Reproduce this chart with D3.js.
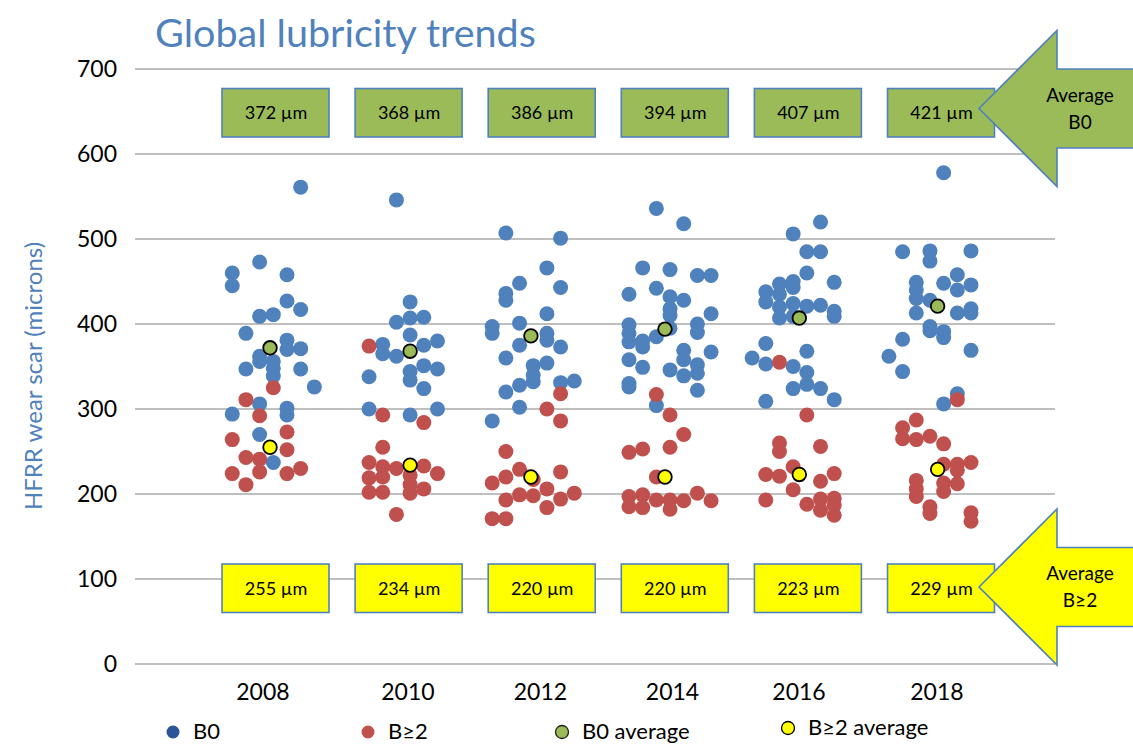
<!DOCTYPE html>
<html><head><meta charset="utf-8">
<script src="https://cdn.jsdelivr.net/npm/d3@7"></script>
<style>body{margin:0;background:#fff;} svg{display:block;font-family:Lato,"Open Sans",sans-serif;}</style>
</head><body>
<svg id="chart" width="1133" height="744"></svg>
<script>
// ---- data ----
const years = ["2008","2010","2012","2014","2016","2018"];
const b0Avg = [372, 368, 386, 394, 407, 421];
const b2Avg = [255, 234, 220, 220, 223, 229];
// x slot (jitter column) of each average marker and each year label
const avgSlot = [2.76, 13, 21.83, 31.63, 41.45, 51.56];
const labelSlot = [2.24, 12.84, 22.53, 32.18, 41.43, 51.51];
const yTicks = [0, 100, 200, 300, 400, 500, 600, 700];

// B0 points: [slot, wear scar]
const b0_2008 = [[5,561],[2,473],[0,460],[0,445],[4,458],[4,427],[5,417],[2,409],[3,411],[1,389],[4,381],[4,370],[5,371],[2,362],[2,356],[3,356],[3,348],[3,339],[1,347],[5,347],[6,326],[2,306],[4,301],[4,293],[0,294],[2,270],[3,237]];
const b0_2010 = [[12,546],[13,426],[12,402],[13,407],[14,408],[13,387],[11,376],[11,365],[12,362],[14,375],[15,380],[14,351],[15,347],[13,344],[13,334],[10,338],[14,324],[10,300],[13,293],[15,300]];
const b0_2012 = [[20,507],[24,501],[23,466],[21,448],[24,443],[20,436],[20,428],[23,412],[21,401],[19,397],[19,389],[23,389],[23,381],[21,375],[24,373],[20,360],[22,351],[23,354],[22,340],[22,332],[21,328],[24,331],[25,333],[20,320],[21,302],[19,286]];
const b0_2014 = [[31,536],[33,518],[30,466],[32,464],[34,457],[35,457],[31,442],[29,435],[32,432],[33,428],[32,418],[32,410],[35,412],[29,399],[34,400],[34,390],[29,389],[32,395],[31,385],[30,380],[29,379],[30,373],[33,369],[35,367],[33,358],[29,358],[34,352],[30,349],[32,346],[33,339],[34,342],[29,330],[29,326],[34,322],[31,304]];
const b0_2016 = [[43,520],[41,506],[42,485],[43,485],[42,460],[40,447],[41,450],[44,449],[39,438],[39,426],[40,435],[41,443],[40,420],[41,424],[42,421],[43,422],[44,415],[44,409],[40,407],[41,409],[39,377],[38,360],[39,353],[42,368],[41,350],[42,343],[42,329],[41,324],[43,324],[39,309],[44,311]];
const b0_2018 = [[52,578],[49,485],[51,486],[54,486],[51,474],[53,458],[50,449],[52,448],[54,446],[53,440],[50,440],[50,430],[51,428],[50,413],[53,413],[54,418],[54,413],[51,397],[51,392],[52,391],[52,384],[49,382],[48,362],[54,369],[49,344],[53,318],[52,306]];

// B>=2 points: [slot, wear scar]
const b2_2008 = [[3,325],[1,311],[2,292],[4,273],[0,264],[4,252],[1,243],[2,241],[2,226],[0,224],[4,224],[5,230],[1,211]];
const b2_2010 = [[10,374],[11,293],[14,284],[11,255],[10,237],[11,232],[12,230],[14,233],[15,224],[10,219],[11,220],[13,222],[13,211],[13,201],[10,202],[11,202],[14,206],[12,176]];
const b2_2012 = [[24,318],[23,300],[24,286],[20,250],[21,229],[24,226],[20,220],[19,213],[22,217],[23,206],[21,199],[22,198],[25,201],[24,194],[20,193],[23,184],[19,171],[20,171]];
const b2_2014 = [[31,317],[32,293],[33,270],[30,253],[29,249],[32,255],[31,220],[34,201],[30,199],[29,197],[31,193],[32,193],[33,192],[35,192],[29,185],[30,184],[32,182]];
const b2_2016 = [[40,355],[42,293],[40,260],[40,250],[43,256],[41,232],[39,223],[40,221],[44,224],[43,215],[41,205],[39,193],[42,188],[43,194],[44,195],[44,187],[43,181],[44,175]];
const b2_2018 = [[53,311],[50,287],[49,278],[49,265],[50,264],[51,268],[52,259],[52,235],[53,235],[53,228],[54,237],[50,216],[50,206],[50,197],[52,213],[52,203],[53,212],[51,185],[51,177],[54,178],[54,168]];

const b0Points = [].concat(b0_2008, b0_2010, b0_2012, b0_2014, b0_2016, b0_2018);
const b2Points = [].concat(b2_2008, b2_2010, b2_2012, b2_2014, b2_2016, b2_2018);

// ---- drawing ----
const svg = d3.select("#chart");
const BLUE = "#4f81bd", RED = "#c0504d", GREEN = "#9bbb59", YELLOW = "#ffff00";

const x = d3.scaleLinear().domain([-7.11, 60.14]).range([135, 1055]);
const y = d3.scaleLinear().domain([0, 700]).range([664, 69]);
const boxX = d3.scalePoint().domain(years).range([276, 941.5]);

// gridlines
svg.append("g").selectAll("line").data(yTicks).join("line")
  .attr("x1", 135).attr("x2", 1055)
  .attr("y1", d => y(d)).attr("y2", d => y(d))
  .attr("stroke", "#bfbfbf").attr("stroke-width", 2);

// y axis labels
const yAxis = d3.axisLeft(y).tickValues(yTicks).tickSize(0).tickPadding(0);
const ya = svg.append("g").attr("transform", "translate(117,0)").call(yAxis);
ya.select(".domain").remove();
ya.selectAll("text").attr("font-family", "Lato, sans-serif").attr("font-size", 23).attr("fill", "#000");

// x labels
svg.append("g").selectAll("text").data(years).join("text")
  .attr("x", (d, i) => x(labelSlot[i])).attr("y", 700)
  .attr("text-anchor", "middle").attr("font-size", 23).attr("fill", "#000")
  .text(d => d);

// title
svg.append("text").attr("x", 155).attr("y", 47).attr("font-size", 39.5).attr("fill", BLUE)
  .text("Global lubricity trends");

// y axis title
svg.append("text").attr("transform", "translate(42,376) rotate(-90)")
  .attr("text-anchor", "middle").attr("font-size", 24).attr("fill", BLUE)
  .text("HFRR wear scar (microns)");

// points
svg.append("g").selectAll("circle").data(b0Points).join("circle")
  .attr("cx", d => x(d[0])).attr("cy", d => y(d[1])).attr("r", 7.5).attr("fill", BLUE);
svg.append("g").selectAll("circle").data(b2Points).join("circle")
  .attr("cx", d => x(d[0])).attr("cy", d => y(d[1])).attr("r", 7.5).attr("fill", RED);
svg.append("g").selectAll("circle").data(b0Avg).join("circle")
  .attr("cx", (d, i) => x(avgSlot[i])).attr("cy", d => y(d)).attr("r", 6.8)
  .attr("fill", GREEN).attr("stroke", "#000").attr("stroke-width", 1.8);
svg.append("g").selectAll("circle").data(b2Avg).join("circle")
  .attr("cx", (d, i) => x(avgSlot[i])).attr("cy", d => y(d)).attr("r", 6.8)
  .attr("fill", YELLOW).attr("stroke", "#000").attr("stroke-width", 1.8);

// arrows
function arrow(tipY, fill, lines) {
  const tipX = 979, headX = 1057, half = 78, shaft = 39.5;
  const pts = [[tipX, tipY], [headX, tipY - half], [headX, tipY - shaft], [1140, tipY - shaft],
               [1140, tipY + shaft], [headX, tipY + shaft], [headX, tipY + half]];
  svg.append("path").attr("d", d3.line()(pts) + "Z")
    .attr("fill", fill).attr("stroke", BLUE).attr("stroke-width", 1.6);
  svg.append("text").attr("x", 1080).attr("y", tipY - 7).attr("text-anchor", "middle")
    .attr("font-size", 19).attr("fill", "#000")
    .selectAll("tspan").data(lines).join("tspan")
    .attr("x", 1080).attr("dy", (d, i) => i === 0 ? 0 : 27).text(d => d);
}

// value boxes
function boxes(vals, top, fill) {
  const g = svg.append("g");
  g.selectAll("rect").data(vals).join("rect")
    .attr("x", (d, i) => boxX(years[i]) - 54).attr("y", top)
    .attr("width", 107).attr("height", 48.5)
    .attr("fill", fill).attr("stroke", BLUE).attr("stroke-width", 1.6);
  g.selectAll("text").data(vals).join("text")
    .attr("x", (d, i) => boxX(years[i])).attr("y", top + 24.5)
    .attr("dy", "0.35em").attr("text-anchor", "middle").attr("font-size", 18).attr("fill", "#000")
    .text(d => d + " µm");
}
boxes(b0Avg, 88.5, GREEN);
boxes(b2Avg, 564, YELLOW);
arrow(108.5, GREEN, ["Average", "B0"]);
arrow(587, YELLOW, ["Average", "B≥2"]);

// legend
const legend = [
  {label: "B0", fill: "#2a5597", stroke: "none", lx: 173, ly: 732},
  {label: "B≥2", fill: RED, stroke: "none", lx: 368, ly: 732},
  {label: "B0 average", fill: GREEN, stroke: "#222", lx: 562, ly: 732},
  {label: "B≥2 average", fill: YELLOW, stroke: "#000", lx: 788, ly: 728}
];
const lg = svg.append("g").selectAll("g").data(legend).join("g");
lg.append("circle").attr("cx", d => d.lx).attr("cy", d => d.ly).attr("r", 6.5)
  .attr("fill", d => d.fill).attr("stroke", d => d.stroke).attr("stroke-width", 1.3);
lg.append("text").attr("x", d => d.lx + 20).attr("y", d => d.ly + 7)
  .attr("font-size", 22).attr("fill", "#000").text(d => d.label);
</script>
</body></html>
